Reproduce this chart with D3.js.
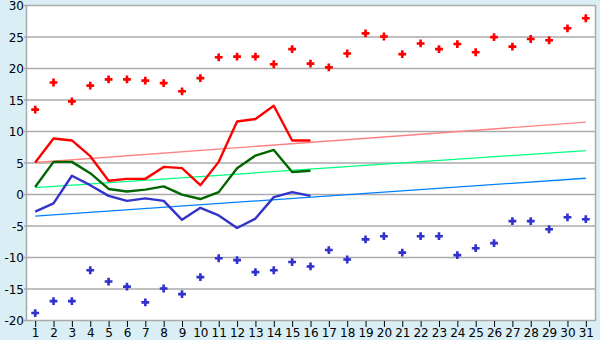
<!DOCTYPE html>
<html><head><meta charset="utf-8">
<script src="https://cdn.jsdelivr.net/npm/d3@7"></script>
<style>html,body{margin:0;padding:0;background:#d9eef5;}svg{display:block;}</style>
</head><body>
<script>
const days = d3.range(1, 32);
const maxPoints = [13.4,17.7,14.7,17.2,18.2,18.2,18.0,17.6,16.3,18.4,21.7,21.8,21.8,20.6,23.0,20.7,20.1,22.3,25.5,25.0,22.2,23.9,23.0,23.8,22.5,24.9,23.4,24.6,24.4,26.3,27.9];
const minPoints = [-18.9,-17.0,-17.0,-12.1,-13.9,-14.7,-17.2,-15.0,-15.9,-13.2,-10.2,-10.5,-12.4,-12.1,-10.8,-11.5,-8.9,-10.4,-7.2,-6.7,-9.3,-6.7,-6.7,-9.7,-8.6,-7.8,-4.3,-4.3,-5.6,-3.7,-4.0];
const maxLine = [5.0,8.8,8.5,6.0,2.1,2.4,2.4,4.3,4.1,1.4,5.1,11.5,11.9,14.0,8.5,8.5];
const meanLine = [1.1,5.1,5.1,3.3,0.8,0.4,0.7,1.2,-0.1,-0.8,0.3,4.1,6.1,7.0,3.5,3.7];
const minLine = [-2.8,-1.5,2.9,1.4,-0.3,-1.1,-0.7,-1.1,-4.1,-2.2,-3.4,-5.4,-3.9,-0.5,0.3,-0.3];
const maxTrend = [5.0, 11.4];
const meanTrend = [1.0, 6.9];
const minTrend = [-3.5, 2.5];
const yTicks = [-20,-15,-10,-5,0,5,10,15,20,25,30];

const W = 600, H = 340;
const L = 26, R = 595, T = 5, B = 320;
const svg = d3.select("body").append("svg").attr("width", W).attr("height", H);
const x = d3.scaleLinear().domain([0.5, 31.5]).range([L, R]);
const y = d3.scaleLinear().domain([-20, 30]).range([B, T]);

svg.append("rect").attr("x", L).attr("y", T).attr("width", R - L).attr("height", B - T).attr("fill", "#fff");

// grid
svg.append("g").selectAll("line").data(yTicks).join("line")
  .attr("x1", L - 2).attr("x2", R).attr("y1", d => y(d) + 0.5).attr("y2", d => y(d) + 0.5)
  .attr("stroke", "#aaaaaa").attr("stroke-width", 1.5);
svg.append("line").attr("x1", L + 0.5).attr("x2", L + 0.5).attr("y1", T).attr("y2", B + 1).attr("stroke", "#aaaaaa").attr("stroke-width", 1.5);
svg.append("line").attr("x1", R + 0.5).attr("x2", R + 0.5).attr("y1", T).attr("y2", B + 1).attr("stroke", "#aaaaaa").attr("stroke-width", 1.5);

// y labels
svg.append("g").selectAll("text").data(yTicks).join("text")
  .attr("x", L - 2).attr("y", d => y(d) + 5).attr("text-anchor", "end")
  .attr("font-family", "DejaVu Sans, Verdana, sans-serif").attr("font-size", 12).attr("fill", "#000")
  .text(d => d);

// x axis
const xAxis = d3.axisBottom(x).tickValues(days).tickSize(6).tickFormat(d => d);
const gx = svg.append("g").attr("transform", `translate(0,${B + 1})`).call(xAxis);
gx.select(".domain").remove();
gx.selectAll(".tick line").attr("stroke", "#000");
gx.selectAll(".tick text").attr("font-family", "DejaVu Sans, Verdana, sans-serif").attr("font-size", 12).attr("fill", "#000").attr("dy", "0.6em");

// trends
const trend = (vals, col) => svg.append("line")
  .attr("x1", x(1)).attr("x2", x(31)).attr("y1", y(vals[0])).attr("y2", y(vals[1]))
  .attr("stroke", col).attr("stroke-width", 1.3);
trend(maxTrend, "#ff8080");
trend(meanTrend, "#00ff80");
trend(minTrend, "#0080ff");

// lines
const line = d3.line().x((d, i) => x(i + 1)).y(d => y(d));
const drawLine = (vals, col) => svg.append("path").datum(vals).attr("d", line)
  .attr("fill", "none").attr("stroke", col).attr("stroke-width", 2.4).attr("stroke-linejoin", "round");
drawLine(maxLine, "#ff0000");
drawLine(meanLine, "#006600");
drawLine(minLine, "#3333cc");

// points
const sym = d3.symbol().type(d3.symbolCross).size(34);
const sym2 = d3.symbol().type(d3.symbolSquare).size(14);
const pts = (vals, col) => {
  const g = svg.append("g").selectAll("g").data(vals).join("g")
    .attr("transform", (d, i) => `translate(${x(i + 1)},${y(d)})`);
  g.append("path").attr("d", sym).attr("fill", col);
  g.append("path").attr("d", sym2).attr("transform", "rotate(45)").attr("fill", col);
};
pts(maxPoints, "#ff0000");
pts(minPoints, "#3333cc");
</script>
</body></html>
